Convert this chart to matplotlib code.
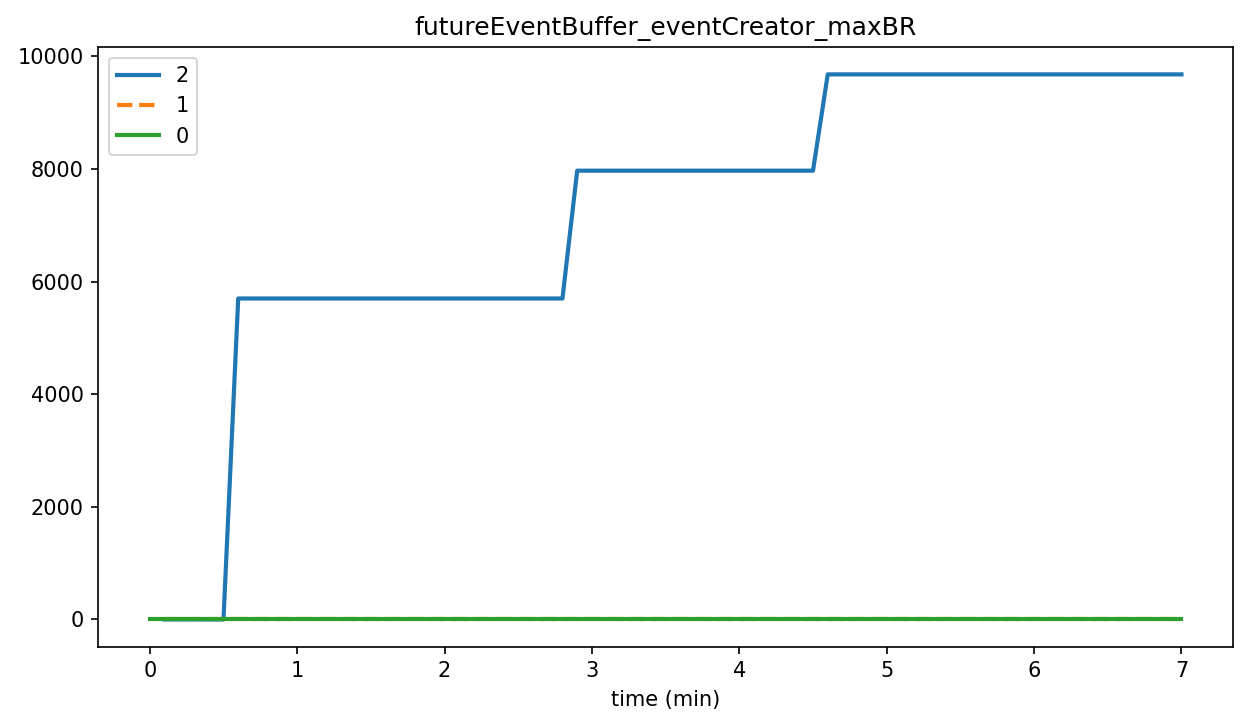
import matplotlib
matplotlib.use('Agg')
import matplotlib.pyplot as plt

# time (min) and values
t2 = [0.1, 0.5, 0.6, 2.8, 2.9, 4.5, 4.6, 7.0]
v2 = [0, 0, 5700, 5700, 7970, 7970, 9680, 9680]

t1 = [0.1, 7.0]
v1 = [0, 0]

t0 = [0.0, 7.0]
v0 = [0, 0]

fig = plt.figure(figsize=(1243 / 150, 725 / 150), dpi=150)
ax = fig.add_subplot(1, 1, 1)
fig.subplots_adjust(left=0.079, right=0.992, top=0.935, bottom=0.108)

ax.plot(t2, v2, '-', color='#1f77b4', linewidth=2, label='2')
ax.plot(t1, v1, '--', color='#ff7f0e', linewidth=2, label='1')
ax.plot(t0, v0, '-', color='#2ca02c', linewidth=2, label='0')

ax.set_title('futureEventBuffer_eventCreator_maxBR')
ax.set_xlabel('time (min)')
ax.legend(loc='upper left')

plt.savefig('out.png', dpi=150)
